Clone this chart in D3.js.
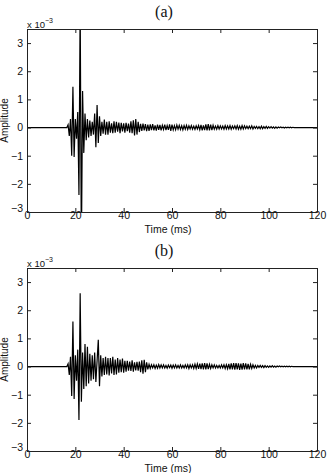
<!DOCTYPE html>
<html>
<head>
<meta charset="utf-8">
<script src="https://cdn.jsdelivr.net/npm/d3@7"></script>
<style>
  body { margin: 0; background: #fff; }
  .axis text { font-family: "Liberation Sans", Arial, sans-serif; font-size: 10.5px; fill: #111; }
  .axis path, .axis line { stroke: #222; }
</style>
</head>
<body>
<div id="div_canvas"></div>
<script>
// sampling of the traces: first sample at 16 ms, one sample every 0.5 ms
var sampleStart = 16;
var sampleStep = 0.5;

// amplitude (x 10^-3), panel (a)
var ampA = [
    0, 0, 0.1, -0.3, 0.3, -1.0, 1.45, -1.05, 0.3, -0.4,
    0.55, -2.4, 4.5, -4.5, 1.3, -0.9, 0.5, -0.45, 0.3, -0.35,
    0.25, -0.3, 0.2, -0.25, 0.5, -0.7, 0.8, -0.55, 0.4, -0.3,
    0.2, -0.22, 0.28, -0.25, 0.2, -0.25, 0.22, -0.18, 0.15, -0.2,
    0.22, -0.18, 0.2, -0.15, 0.18, -0.2, 0.17, -0.14, 0.15, -0.18,
    0.17, -0.13, 0.14, -0.18, 0.22, -0.2, 0.26, -0.28, 0.3, -0.25,
    0.2, -0.16, 0.13, -0.12, 0.14, -0.1, 0.12, -0.13, 0.1, -0.12,
    0.11, -0.09, 0.12, -0.1, 0.08, -0.11, 0.1, -0.08, 0.09, -0.1,
    0.08, -0.07, 0.1, -0.09, 0.07, -0.08, 0.11, -0.12, 0.1, -0.08,
    0.07, -0.08, 0.09, -0.06, 0.08, -0.07, 0.06, -0.08, 0.07, -0.06,
    0.08, -0.07, 0.06, -0.05, 0.07, -0.06, 0.05, -0.07, 0.06, -0.05,
    0.07, -0.08, 0.09, -0.1, 0.08, -0.09, 0.11, -0.1, 0.12, -0.1,
    0.1, -0.09, 0.08, -0.06, 0.05, -0.06, 0.07, -0.05, 0.06, -0.05,
    0.05, -0.06, 0.07, -0.05, 0.06, -0.05, 0.07, -0.06, 0.05, -0.04,
    0.06, -0.05, 0.07, -0.06, 0.05, -0.06, 0.07, -0.05, 0.06, -0.04,
    0.05, -0.04, 0.05, -0.04, 0.06, -0.05, 0.04, -0.03, 0.04, -0.04,
    0.03, -0.04, 0.05, -0.04, 0.03, -0.03, 0.04, -0.03, 0.03, -0.02,
    0.03, -0.02, 0.02, -0.03, 0.02, -0.02, 0.02, -0.01, 0.02, -0.01,
    0.01, -0.02, 0.01, -0.01, 0.01, -0.01, 0.01, -0.01, 0.01, 0,
    0, 0, 0
];

// amplitude (x 10^-3), panel (b)
var ampB = [
    0, 0, 0.1, -0.3, 0.35, -1.05, 1.6, -1.15, 0.4, -0.5,
    0.6, -1.9, 2.6, -1.25, 0.5, -0.8, 0.8, -0.7, 0.7, -0.6,
    0.45, -0.5, 0.4, -0.45, 0.5, -0.55, 0.2, 0.95, -0.7, 0.4,
    -0.35, 0.3, -0.3, 0.35, -0.28, 0.3, -0.32, 0.3, -0.25, 0.35,
    -0.3, 0.25, -0.28, 0.3, -0.22, 0.25, -0.2, 0.28, -0.22, 0.2,
    -0.18, 0.2, -0.15, 0.18, -0.16, 0.22, -0.18, 0.15, -0.14, 0.17,
    -0.15, 0.18, -0.2, 0.22, -0.25, 0.24, -0.2, 0.15, -0.1, 0.08,
    -0.07, 0.06, -0.05, 0.06, -0.07, 0.05, -0.06, 0.07, -0.05, 0.06,
    -0.05, 0.06, -0.05, 0.04, -0.06, 0.05, -0.04, 0.05, -0.06, 0.05,
    -0.05, 0.06, -0.05, 0.04, -0.05, 0.06, -0.05, 0.04, -0.05, 0.06,
    -0.05, 0.06, -0.07, 0.06, -0.05, 0.06, -0.07, 0.08, -0.07, 0.09,
    -0.08, 0.1, -0.09, 0.11, -0.1, 0.12, -0.1, 0.11, -0.09, 0.08,
    -0.07, 0.06, -0.05, 0.06, -0.05, 0.04, -0.05, 0.04, -0.05, 0.06,
    -0.05, 0.06, -0.07, 0.06, -0.08, 0.09, -0.1, 0.11, -0.1, 0.12,
    -0.11, 0.12, -0.1, 0.11, -0.12, 0.1, -0.11, 0.12, -0.1, 0.11,
    -0.1, 0.09, -0.1, 0.08, -0.07, 0.06, -0.05, 0.04, -0.05, 0.04,
    -0.03, 0.04, -0.03, 0.03, -0.04, 0.03, -0.03, 0.02, -0.03, 0.02,
    -0.02, 0.03, -0.02, 0.02, -0.02, 0.02, -0.01, 0.02, -0.01, 0.01,
    -0.01, 0.01, -0.01, 0.01, -0.01, 0.01, -0.01, 0.01, 0, 0,
    0, 0, 0
];

var xTicks = [0, 20, 40, 60, 80, 100, 120];
var yTicks = [-3, -2, -1, 0, 1, 2, 3];
var xDomain = [0, 120];
var yDomain = [-3, 3.5];

var margin = { left: 27, right: 12 };
var width = 329 - margin.left - margin.right;
var height = 183;

var svg = d3.select("#div_canvas").append("svg")
    .attr("width", 329)
    .attr("height", 473)

var x = d3.scaleLinear().domain(xDomain).range([0, width]);
var y = d3.scaleLinear().domain(yDomain).range([height, 0]);

function drawPanel(top, title, amps, id) {
    var g = svg.append("g")
        .attr("transform", "translate(" + margin.left + ", " + top + ")");

    // trace is flat zero before the onset and after the tail
    var pts = [[0, 0]];
    amps.forEach(function (v, i) {
        pts.push([sampleStart + i * sampleStep, v]);
    });
    pts.push([120, 0]);

    g.append("clipPath").attr("id", "clip" + id)
        .append("rect").attr("width", width).attr("height", height);

    var line = d3.line()
        .x(function (d) { return x(d[0]); })
        .y(function (d) { return y(d[1]); });

    g.append("path")
        .datum(pts)
        .attr("clip-path", "url(#clip" + id + ")")
        .attr("d", line)
        .attr("fill", "none")
        .attr("stroke", "#000")
        .attr("stroke-width", 1.2);

    // axes, MATLAB box with inward ticks
    var xAxis = d3.axisBottom(x).tickValues(xTicks).tickSize(-4).tickSizeOuter(0);
    g.append("g").attr("class", "x axis").attr("transform", "translate(0," + height + ")")
        .call(xAxis)
        .selectAll("text")
            .attr("y", 3.5)
            .attr("dy", "0.35em");

    g.append("g").attr("class", "axis")
        .call(d3.axisTop(x).tickValues(xTicks).tickSize(-4).tickSizeOuter(0).tickFormat(""));

    var yAxis = d3.axisLeft(y).tickValues(yTicks).tickSize(-4).tickSizeOuter(0)
        .tickFormat(function (d) { return d < 0 ? "\u2212" + (-d) : d; });
    g.append("g").attr("class", "y axis")
        .call(yAxis)
        .selectAll("text")
            .attr("x", -4)
            .attr("y", function (d) { return d === -3 ? -4 : 0; });

    g.append("g").attr("class", "axis").attr("transform", "translate(" + width + ",0)")
        .call(d3.axisRight(y).tickValues(yTicks).tickSize(-4).tickSizeOuter(0).tickFormat(""));

    g.selectAll(".domain").attr("stroke", "#222");

    // multiplier
    var mult = g.append("text")
        .attr("x", 0).attr("y", -1)
        .attr("font-family", "Liberation Sans, Arial, sans-serif")
        .attr("font-size", "9.5px")
        .attr("fill", "#111")
        .text("x 10");
    mult.append("tspan")
        .attr("dy", -5)
        .attr("font-size", "7px")
        .text("\u22123");

    // labels
    g.append("text")
        .attr("x", width / 2 - 4).attr("y", height + 21)
        .attr("text-anchor", "middle")
        .attr("font-family", "Liberation Sans, Arial, sans-serif")
        .attr("font-size", "10.5px")
        .attr("fill", "#111")
        .text("Time (ms)");

    g.append("text")
        .attr("transform", "translate(-19," + (height / 2) + ") rotate(-90)")
        .attr("text-anchor", "middle")
        .attr("font-family", "Liberation Sans, Arial, sans-serif")
        .attr("font-size", "10px")
        .attr("fill", "#111")
        .text("Amplitude");

    g.append("text")
        .attr("x", width / 2 - 8).attr("y", -12)
        .attr("text-anchor", "middle")
        .attr("font-family", "Liberation Serif, DejaVu Serif, serif")
        .attr("font-size", "16px")
        .attr("fill", "#111")
        .text(title);
}

drawPanel(29, "(a)", ampA, "a");
drawPanel(268, "(b)", ampB, "b");
</script>
</body>
</html>
